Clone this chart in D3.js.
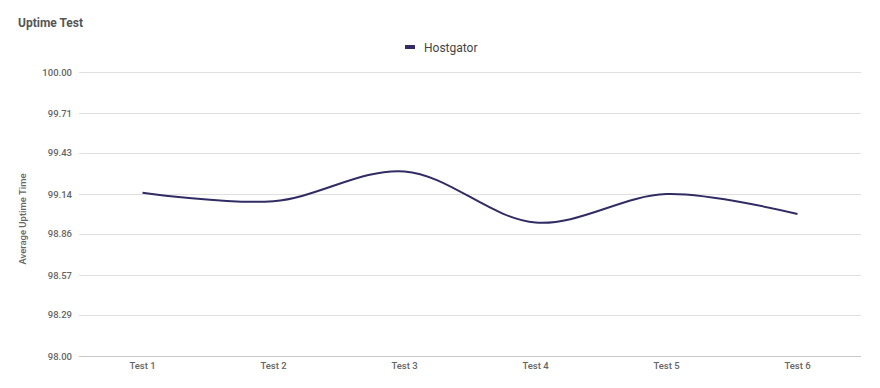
<!DOCTYPE html>
<html>
<head>
<meta charset="utf-8">
<script src="https://d3js.org/d3.v7.min.js"></script>
<style>
  body { margin: 0; background: #fff; font-family: Roboto, "Noto Sans", sans-serif; }
  svg { display: block; }
</style>
</head>
<body>
<div id="chart"></div>
<script>
  var tests = ["Test 1", "Test 2", "Test 3", "Test 4", "Test 5", "Test 6"];
  var hostgator = [99.15, 99.09, 99.30, 98.94, 99.14, 99.00];
  var yTicks = [98.00, 98.29, 98.57, 98.86, 99.14, 99.43, 99.71, 100.00];

  var width = 880, height = 388;
  var plotLeft = 77, plotRight = 863, plotTop = 72, plotBottom = 356;

  var svg = d3.select("#chart").append("svg")
    .attr("width", width)
    .attr("height", height);

  var x = d3.scaleBand().domain(tests).range([plotLeft, plotRight]);
  var y = d3.scaleLinear().domain([98, 100]).range([plotBottom, plotTop]);

  // title
  svg.append("text")
    .attr("x", 18).attr("y", 27)
    .style("font-size", "12px").style("font-weight", "bold")
    .style("fill", "#555")
    .text("Uptime Test");

  // grid + y labels
  var yAxis = svg.append("g");
  yAxis.selectAll("line").data(yTicks).enter().append("line")
    .attr("x1", plotLeft + 2).attr("x2", plotRight - 2)
    .attr("y1", function(d) { return Math.round(y(d)) + 0.5; })
    .attr("y2", function(d) { return Math.round(y(d)) + 0.5; })
    .style("stroke", function(d) { return d == 98 ? "#c8c8c8" : "#e0e0e0"; })
    .style("stroke-width", 1);
  yAxis.selectAll("text").data(yTicks).enter().append("text")
    .attr("x", 72)
    .attr("y", function(d) { return y(d) + 3.5; })
    .attr("text-anchor", "end")
    .style("font-size", "9.5px").style("font-weight", "500")
    .style("fill", "#666")
    .text(function(d) { return d.toFixed(2); });

  // y title
  svg.append("text")
    .attr("transform", "translate(26,219) rotate(-90)")
    .attr("text-anchor", "middle")
    .style("font-size", "9.5px").style("font-weight", "500")
    .style("fill", "#666")
    .text("Average Uptime Time");

  // x labels
  svg.append("g").selectAll("text").data(tests).enter().append("text")
    .attr("x", function(d) { return x(d) + x.bandwidth() / 2; })
    .attr("y", 369)
    .attr("text-anchor", "middle")
    .style("font-size", "9.5px").style("font-weight", "500")
    .style("fill", "#666")
    .text(function(d) { return d; });

  // line
  var line = d3.line()
    .x(function(d, i) { return x(tests[i]) + x.bandwidth() / 2; })
    .y(function(d) { return y(d); })
    .curve(d3.curveCatmullRom.alpha(0.5));

  svg.append("path")
    .datum(hostgator)
    .attr("d", line)
    .style("fill", "none")
    .style("stroke", "#312c63")
    .style("stroke-width", 2);

  // legend
  var legend = svg.append("g").attr("transform", "translate(405,47)");
  legend.append("rect")
    .attr("x", 0).attr("y", -2).attr("width", 10).attr("height", 4)
    .style("fill", "#312c63");
  legend.append("text")
    .attr("x", 19).attr("y", 4.5)
    .style("font-size", "12px")
    .style("fill", "#444")
    .text("Hostgator");
</script>
</body>
</html>
